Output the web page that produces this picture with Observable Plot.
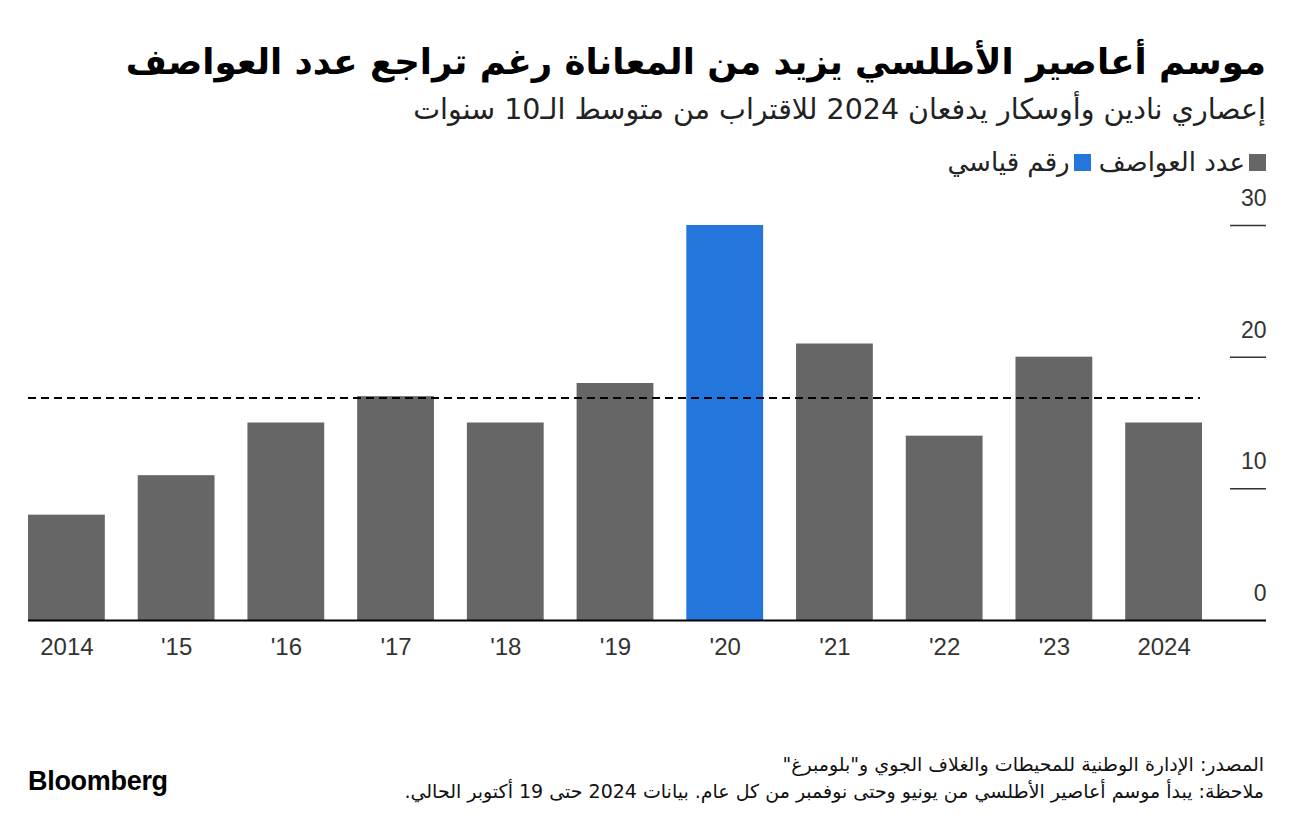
<!DOCTYPE html>
<html>
<head>
<meta charset="utf-8">
<script src="https://cdn.jsdelivr.net/npm/d3@7"></script>
<script src="https://cdn.jsdelivr.net/npm/@observablehq/plot@0.6"></script>
<style>
  html, body { margin: 0; padding: 0; background: #fff; }
  #page { position: relative; width: 1296px; height: 828px; overflow: hidden; font-family: "DejaVu Sans", "Noto Sans", sans-serif; }
  .rtl { position: absolute; right: 30px; direction: rtl; text-align: right; white-space: nowrap; }
  #title { top: 41px; font-size: 35.5px; font-weight: bold; color: #000; }
  #subtitle { top: 93px; font-size: 28.5px; color: #222; }
  #legend { top: 147px; font-size: 26px; color: #222; display: flex; align-items: center; }
  #legend .sw { display: inline-block; width: 17px; height: 17px; margin-left: 4px; }
  #legend .item { display: flex; align-items: center; margin-left: 8px; }
  #chart { position: absolute; left: 0; top: 180px; }
  #source { top: 753px; font-size: 19px; color: #111; right: 32px; }
  #note { top: 780px; font-size: 19px; color: #111; right: 32px; }
  #logo { position: absolute; left: 28px; top: 766px; font-family: "Liberation Sans", Arial, sans-serif; font-weight: bold; font-size: 27px; color: #000; letter-spacing: -0.3px; }
</style>
</head>
<body>
<div id="page">
  <div id="title" class="rtl">موسم أعاصير الأطلسي يزيد من المعاناة رغم تراجع عدد العواصف</div>
  <div id="subtitle" class="rtl">إعصاري نادين وأوسكار يدفعان 2024 للاقتراب من متوسط الـ10 سنوات</div>
  <div id="legend" class="rtl"></div>
  <div id="chart"></div>
  <div id="source" class="rtl">المصدر: الإدارة الوطنية للمحيطات والغلاف الجوي و"بلومبرغ"</div>
  <div id="note" class="rtl">ملاحظة: يبدأ موسم أعاصير الأطلسي من يونيو وحتى نوفمبر من كل عام. بيانات 2024 حتى 19 أكتوبر الحالي.</div>
  <div id="logo">Bloomberg</div>
</div>
<script>
const years = ["2014", "'15", "'16", "'17", "'18", "'19", "'20", "'21", "'22", "'23", "2024"];
const storms = [8, 11, 15, 17, 15, 18, 30, 21, 14, 20, 15];
const record = [false, false, false, false, false, false, true, false, false, false, false];
const tenYearAverage = 16.9;
const yTicks = [0, 10, 20, 30];
const legendLabels = ["عدد العواصف", "رقم قياسي"];
const colors = ["#666666", "#2475dc"];

const legend = document.getElementById("legend");
legendLabels.forEach((lab, i) => {
  const it = document.createElement("span");
  it.className = "item";
  it.innerHTML = `<span class="sw" style="background:${colors[i]}"></span><span>${lab}</span>`;
  legend.appendChild(it);
});

const data = years.map((y, i) => ({year: y, value: storms[i], record: record[i]}));

const W = 1296, H = 510;
const mL = 28, mR = 30, mT = 45, mB = 70;

const chart = Plot.plot({
  width: W,
  height: H,
  marginLeft: mL,
  marginRight: mR,
  marginTop: mT,
  marginBottom: mB,
  style: {fontFamily: "Liberation Sans, Arial, sans-serif", fontSize: "23px", color: "#333", background: "#fff"},
  x: {domain: years, range: [28, 1202], round: false, paddingInner: 0.3, paddingOuter: 0, label: null},
  y: {domain: [0, 30], label: null, axis: null},
  marks: [
    Plot.barY(data, {x: "year", y: "value", fill: d => d.record ? colors[1] : colors[0]}),
    Plot.ruleY([tenYearAverage], {stroke: "#000", strokeWidth: 2, strokeDasharray: "8,5", insetRight: 66}),
    Plot.ruleY(yTicks.filter(t => t > 0), {y: d => d, stroke: "#333", strokeWidth: 1.5, insetLeft: 1202}),
    Plot.ruleY([0], {stroke: "#000", strokeWidth: 2}),
    Plot.text(yTicks, {y: d => d, text: d => String(d), frameAnchor: "right", textAnchor: "end", dy: -27, dx: 0, fontSize: 23, fill: "#333"}),
    Plot.axisX({tickSize: 0, tickPadding: 17, fontSize: 24, fill: "#333"}),
  ]
});
document.getElementById("chart").appendChild(chart);
</script>
</body>
</html>
